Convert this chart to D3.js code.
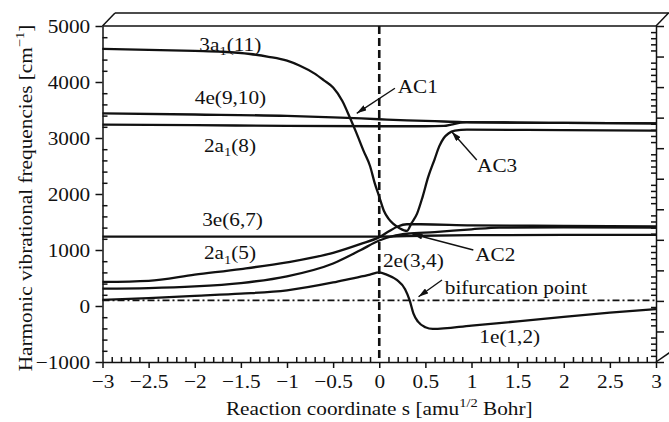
<!DOCTYPE html>
<html>
<head>
<meta charset="utf-8">
<script src="https://cdn.jsdelivr.net/npm/d3@7"></script>
<style>
body { margin: 0; background: #fff; }
svg text { font-family: "Liberation Serif", "Times New Roman", serif; fill: #111; }
.axis path, .axis line { stroke: #111; stroke-width: 1.5; }
.curve { fill: none; stroke: #111; stroke-width: 2.3; }
</style>
</head>
<body>
<script>
// tick labels
var xTicks = [-3, -2.5, -2, -1.5, -1, -0.5, 0, 0.5, 1, 1.5, 2, 2.5, 3];
var yTicks = [-1000, 0, 1000, 2000, 3000, 4000, 5000];

// curves, [s, frequency]
var a1_11 = [[-3,4590],[-2.5,4575],[-2,4555],[-1.7,4540],[-1.4,4500],[-1.2,4450],[-1,4380],[-0.86,4290],
  [-0.7,4150],[-0.6,4030],[-0.5,3900],[-0.4,3660],[-0.32,3370],[-0.25,3100],[-0.17,2770],[-0.1,2500],
  [-0.05,2200],[0,1950],[0.05,1700],[0.1,1560],[0.15,1470],[0.22,1390],[0.3,1340],[0.35,1480],[0.41,1650],
  [0.47,1950],[0.53,2300],[0.6,2620],[0.65,2850],[0.7,3000],[0.75,3080],[0.82,3130],[0.95,3150],[2,3140],[3,3130]];
var e_9_10 = [[-3,3440],[-2,3420],[-1,3395],[-0.5,3370],[0,3335],[0.3,3315],[0.6,3300],[0.9,3285],[1.5,3275],[2,3270],[3,3260]];
var a1_8 = [[-3,3240],[-2,3230],[-1,3215],[0,3210],[0.5,3210],[0.7,3215],[0.78,3240],[0.88,3275],[0.95,3283],[1.5,3275],[2,3270],[3,3260]];
var e_6_7 = [[-3,1240],[-1,1240],[0,1240],[0.3,1250],[1,1265],[2,1270],[3,1270]];
var a1_5 = [[-3,430],[-2.5,450],[-2,560],[-1.5,660],[-1,780],[-0.5,950],[-0.2,1110],[0,1230],[0.1,1330],
  [0.2,1420],[0.3,1460],[0.45,1460],[1,1440],[2,1430],[3,1420]];
var e_3_4 = [[-3,310],[-2.5,320],[-2,350],[-1.5,410],[-1,530],[-0.5,760],[-0.2,1000],[0,1170],[0.15,1250],
  [0.3,1290],[0.6,1320],[1,1370],[1.3,1400],[2,1405],[3,1400]];
var e_1_2 = [[-3,110],[-2.5,140],[-2,180],[-1.5,220],[-1,280],[-0.5,420],[-0.3,490],[-0.1,560],[0,600],
  [0.08,560],[0.19,465],[0.28,300],[0.33,100],[0.37,-130],[0.42,-280],[0.5,-380],[0.58,-410],[1,-350],
  [1.5,-275],[2,-195],[2.5,-120],[3,-55]];
var bifurcationLevel = 100;

// labels: text parts, anchor point in data units
var curveLabels = [
  {parts: [["3a"], ["1", "sub"], ["(11)"]], s: -1.95, v: 4560},
  {parts: [["4e(9,10)"]], s: -2.0, v: 3600},
  {parts: [["2a"], ["1", "sub"], ["(8)"]], s: -1.9, v: 2755},
  {parts: [["3e(6,7)"]], s: -1.92, v: 1430},
  {parts: [["2a"], ["1", "sub"], ["(5)"]], s: -1.9, v: 835},
  {parts: [["2e(3,4)"]], s: 0.04, v: 700},
  {parts: [["1e(1,2)"]], s: 1.085, v: -665},
  {parts: [["AC1"]], s: 0.2, v: 3800},
  {parts: [["AC3"]], s: 1.06, v: 2400},
  {parts: [["AC2"]], s: 1.04, v: 805},
  {parts: [["bifurcation point"]], s: 0.71, v: 215}
];
var arrows = [
  {from: [0.17, 3888], to: [-0.244, 3441]},
  {from: [1.057, 2607], to: [0.786, 3113]},
  {from: [1.02, 1000], to: [0.36, 1286]},
  {from: [0.68, 464], to: [0.426, 166]}
];

var fs = 19, sx = 1.12;
var margin = {top: 26, left: 102.5},
    width = 553.5,
    height = 336;

var x = d3.scaleLinear().domain([-3, 3]).range([0, width]);
var y = d3.scaleLinear().domain([-1000, 5000]).range([height, 0]);
var y2 = d3.scaleLinear().domain([-2, 9]).range([height, 0]);

var svg = d3.select("body").append("svg")
    .attr("width", 669)
    .attr("height", 422);

var defs = svg.append("defs");
defs.append("marker")
    .attr("id", "head")
    .attr("viewBox", "0 0 10 6")
    .attr("refX", 10).attr("refY", 3)
    .attr("markerWidth", 10).attr("markerHeight", 6)
    .attr("markerUnits", "userSpaceOnUse")
    .attr("orient", "auto")
  .append("path")
    .attr("d", "M0,0L10,3L0,6Z")
    .attr("fill", "#111");

var g = svg.append("g")
    .attr("transform", "translate(" + margin.left + "," + margin.top + ")");

function addText(parent, px, py, parts, anchor, rotate) {
  var t = parent.append("text")
      .attr("transform", "translate(" + px + "," + py + ")" + (rotate ? " rotate(-90)" : "") + " scale(" + sx + ",1)")
      .attr("text-anchor", anchor || "start")
      .style("font-size", fs + "px");
  var shift = 0;
  parts.forEach(function(p) {
    var target = p[1] == "sub" ? fs * 0.25 : p[1] == "sup" ? -fs * 0.4 : 0;
    t.append("tspan")
        .attr("dy", target - shift)
        .style("font-size", (p[1] ? fs * 0.68 : fs) + "px")
        .text(p[0]);
    shift = target;
  });
  return t;
}

// 3d box edges
var dx = 12.5, dy = 13;
var frame = g.append("g").attr("stroke", "#111").attr("stroke-width", 1.5).attr("fill", "none");
frame.append("line").attr("x1", 0).attr("y1", 0).attr("x2", width).attr("y2", 0);
frame.append("line").attr("x1", dx).attr("y1", -dy).attr("x2", width + dx + 2).attr("y2", -dy);
frame.append("line").attr("x1", 0).attr("y1", 0).attr("x2", dx).attr("y2", -dy);
frame.append("line").attr("x1", width).attr("y1", 0).attr("x2", width + dx).attr("y2", -dy);
frame.append("line").attr("x1", width).attr("y1", height).attr("x2", width + dx + 2).attr("y2", height - 10);

// axes
function minorOnly(vals, isMajor) { return vals.filter(function(d) { return !isMajor(d); }); }

g.append("g").attr("class", "axis")
    .call(d3.axisLeft(y).tickValues(yTicks).tickSize(7).tickSizeOuter(0).tickPadding(4).tickFormat(d3.format("d")))
    .selectAll("text").style("font-size", fs + "px").attr("transform", "scale(" + sx + ",1)");
g.append("g").attr("class", "axis")
    .call(d3.axisLeft(y).tickValues(minorOnly(d3.range(-1000, 5001, 200), function(d) { return d % 1000 === 0; }))
      .tickSize(-5).tickFormat(""))
    .select(".domain").remove();

g.append("g").attr("class", "axis")
    .attr("transform", "translate(0," + height + ")")
    .call(d3.axisBottom(x).tickValues(xTicks).tickSize(6).tickSizeOuter(0).tickPadding(7).tickFormat(d3.format("~g")))
    .selectAll("text").style("font-size", fs + "px").attr("transform", "scale(" + sx + ",1)");
g.append("g").attr("class", "axis")
    .attr("transform", "translate(0," + height + ")")
    .call(d3.axisBottom(x).tickValues(minorOnly(d3.range(-30, 31).map(function(d) { return d / 10; }),
        function(d) { return Math.abs(d * 2 - Math.round(d * 2)) < 1e-6; }))
      .tickSize(-5).tickFormat(""))
    .select(".domain").remove();

g.append("g").attr("class", "axis")
    .attr("transform", "translate(" + width + ",0)")
    .call(d3.axisRight(y2).tickValues(d3.range(-2, 10)).tickSize(8).tickSizeOuter(0).tickFormat(""));
g.append("g").attr("class", "axis")
    .attr("transform", "translate(" + width + ",0)")
    .call(d3.axisRight(y2).tickValues(minorOnly(d3.range(-10, 46).map(function(d) { return d / 5; }),
        function(d) { return Math.abs(d - Math.round(d)) < 1e-6; }))
      .tickSize(-5).tickFormat(""))
    .select(".domain").remove();

// reference lines
g.append("line")
    .attr("x1", 0).attr("x2", width)
    .attr("y1", y(bifurcationLevel)).attr("y2", y(bifurcationLevel))
    .attr("stroke", "#111").attr("stroke-width", 1.6)
    .attr("stroke-dasharray", "7,3,2,3");
g.append("line")
    .attr("x1", x(0)).attr("x2", x(0))
    .attr("y1", 0).attr("y2", height)
    .attr("stroke", "#111").attr("stroke-width", 2.6)
    .attr("stroke-dasharray", "8,4");

// curves
var line = d3.line()
    .x(function(d) { return x(d[0]); })
    .y(function(d) { return y(d[1]); })
    .curve(d3.curveMonotoneX);

[a1_11, e_9_10, a1_8, e_6_7, a1_5, e_3_4, e_1_2].forEach(function(c) {
  g.append("path").attr("class", "curve").attr("d", line(c));
});

// labels and arrows
curveLabels.forEach(function(l) {
  addText(g, x(l.s), y(l.v), l.parts, "start");
});
arrows.forEach(function(a) {
  g.append("line")
      .attr("x1", x(a.from[0])).attr("y1", y(a.from[1]))
      .attr("x2", x(a.to[0])).attr("y2", y(a.to[1]))
      .attr("stroke", "#111").attr("stroke-width", 1.4)
      .attr("marker-end", "url(#head)");
});

// axis titles
addText(svg, 32, 198, [["Harmonic vibrational frequencies [cm"], ["\u22121", "sup"], ["]"]], "middle", true);
addText(svg, margin.left + x(0), 415, [["Reaction coordinate s [amu"], ["1/2", "sup"], [" Bohr]"]], "middle");
</script>
</body>
</html>
